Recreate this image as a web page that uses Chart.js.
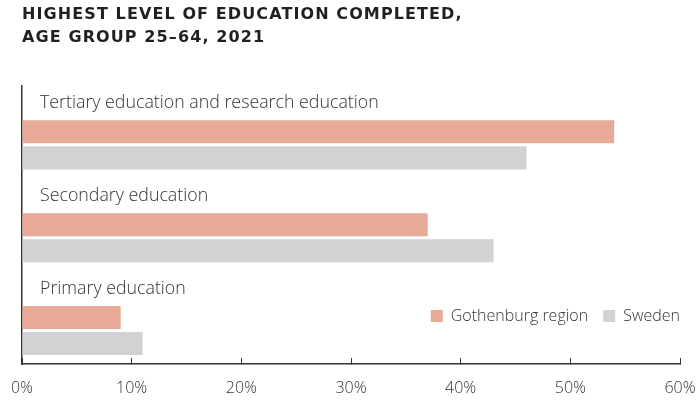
<!DOCTYPE html>
<html><head><meta charset="utf-8">
<script src="https://cdn.jsdelivr.net/npm/chart.js@4/dist/chart.umd.min.js"></script>
<style>html,body{margin:0;padding:0;background:#fff}#wrap{width:700px;height:400px}</style>
</head><body><div id="wrap"><canvas id="c" width="700" height="400"></canvas></div>
<script>
const titleLines = ['HIGHEST LEVEL OF EDUCATION COMPLETED,', 'AGE GROUP 25\u201364, 2021'];
const categories = ['Tertiary education and research education', 'Secondary education', 'Primary education'];
const seriesNames = ['Gothenburg region', 'Sweden'];
const gothenburg = [54, 37, 9];
const sweden = [46, 43, 11];
const xTickMin = 0, xTickMax = 60, xTickStep = 10;

const insideLegend = {
  id: 'insideLegend',
  afterDraw(chart) {
    const {ctx, chartArea} = chart;
    const items = chart.data.datasets.filter(d => !d.spacer);
    ctx.save();
    ctx.font = '300 16px "Open Sans"';
    const box = 12, gap = 8, itemGap = 15;
    const y = chartArea.bottom - 48;
    let x = chartArea.right;
    for (let i = items.length - 1; i >= 0; i--) {
      const ds = items[i];
      const w = ctx.measureText(ds.label).width;
      x -= w;
      ctx.fillStyle = '#333';
      ctx.textBaseline = 'middle';
      ctx.textAlign = 'left';
      ctx.fillText(ds.label, x, y);
      x -= gap + box;
      ctx.fillStyle = ds.backgroundColor;
      ctx.fillRect(x, y - box / 2, box, box);
      x -= itemGap;
    }
    ctx.restore();
  }
};

const titleSpacing = {
  id: 'titleSpacing',
  beforeDraw(chart) {
    const t = chart.titleBlock;
    if (t && !t._spaced) {
      const orig = t.draw.bind(t);
      t.draw = function (...args) {
        const ctx = chart.ctx;
        ctx.save();
        ctx.letterSpacing = '1.1px';
        orig(...args);
        ctx.restore();
      };
      t._spaced = true;
    }
  }
};

new Chart(document.getElementById('c'), {
  type: 'bar',
  data: {
    labels: categories,
    datasets: [
      { label: '', spacer: true, data: categories.map(() => 0), backgroundColor: 'rgba(0,0,0,0)' },
      { label: seriesNames[0], data: gothenburg, backgroundColor: '#E6AA96' },
      { label: seriesNames[1], data: sweden, backgroundColor: '#D1D2D4' }
    ]
  },
  options: {
    indexAxis: 'y',
    responsive: false,
    animation: false,
    devicePixelRatio: 1,
    datasets: { bar: { categoryPercentage: 0.841, barPercentage: 0.885, borderWidth: 0 } },
    layout: { padding: { left: 22, right: 20, top: 0, bottom: 0 } },
    plugins: {
      legend: { display: false },
      tooltip: { enabled: false },
      title: {
        display: true, text: titleLines, align: 'start', color: '#231f20',
        font: { family: 'DejaVu Sans', weight: 'bold', size: 16, lineHeight: 1.45 },
        padding: { top: 3, bottom: 36 }
      }
    },
    scales: {
      x: {
        min: xTickMin, max: xTickMax,
        afterFit: s => { s.height = 36; s.paddingLeft = 0; s.paddingRight = 0; },
        ticks: { stepSize: xTickStep, callback: v => v + '%', color: '#333', maxRotation: 0,
                 font: { family: 'Open Sans', size: 16, weight: '300' }, padding: 21 },
        grid: { display: true, drawOnChartArea: false, drawTicks: true, tickLength: -6, color: '#333', lineWidth: 1 },
        border: { display: true, color: '#333', width: 1.5 }
      },
      y: {
        afterFit: s => { s.width = 0; },
        grid: { display: false, drawTicks: false },
        border: { display: true, color: '#333', width: 1.5 },
        ticks: { mirror: true, padding: 18, labelOffset: -29, color: '#333',
                 font: { family: 'Open Sans', size: 17.8, weight: '300' } }
      }
    }
  },
  plugins: [insideLegend, titleSpacing]
});
</script>
</body></html>
